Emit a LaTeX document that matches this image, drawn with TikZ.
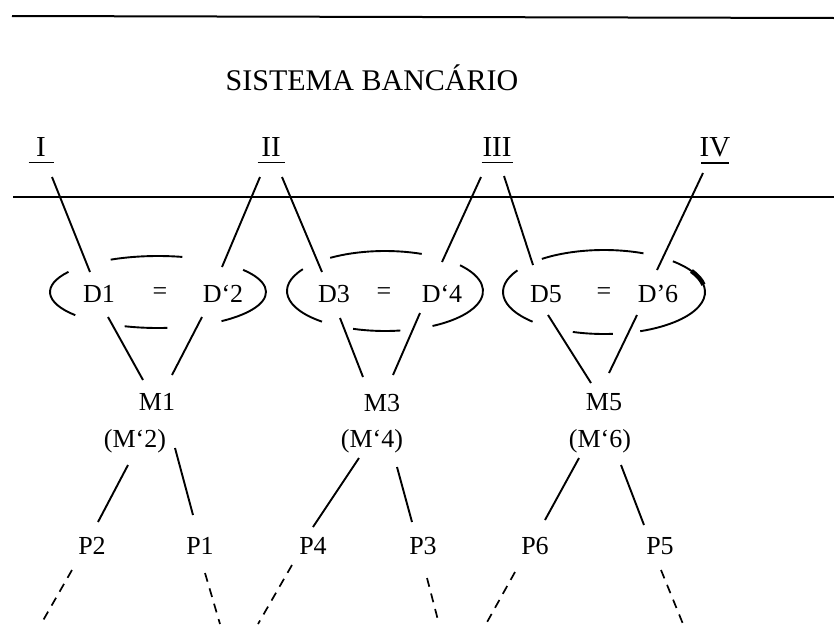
\documentclass[tikz,border=0pt]{standalone}
\usepackage{fontspec}
\setmainfont{Liberation Serif}
\usetikzlibrary{calc}
\begin{document}
\begin{tikzpicture}[x=1pt,y=-1pt,
  lbl/.style={inner sep=0pt, font={\fontsize{26}{28}\selectfont}},
  roman/.style={inner sep=0pt, font={\fontsize{29}{31}\selectfont}},
  link/.style={line width=1.9pt},
  trail/.style={line width=1.7pt, dash pattern=on 9pt off 7pt},
  hrule/.style={line width=2pt},
  uline/.style={line width=1.4pt},
  ring/.style={line width=1.9pt}]
\useasboundingbox (0,0) rectangle (834,624);

% horizontal rules
\draw[hrule] (12,16) -- (834,18);
\draw[hrule] (13,197) -- (834,197);

% heading
\node[inner sep=0pt, font={\fontsize{30}{32}\selectfont}] (title) at (372,78) {SISTEMA BANCÁRIO};

% roman numerals with underlines
\node[roman] (n1) at (41,147) {I};
\node[roman] (n2) at (271,147) {II};
\node[roman] (n3) at (497,147) {III};
\node[roman] (n4) at (715,147) {IV};
\draw[uline] ($(n1.south)+(-12.5,6)$) -- ($(n1.south)+(12.5,6)$);
\draw[uline] ($(n2.south)+(-13.5,6)$) -- ($(n2.south)+(13.5,6)$);
\draw[uline] ($(n3.south)+(-15.5,6)$) -- ($(n3.south)+(15.5,6)$);
\draw[uline] ($(n4.south)+(-14,6)$) -- ($(n4.south)+(14,6)$);

% deposit row
\node[lbl] (D1) at (99,294) {D1};
\node[lbl] (eq1) at (160,294) {=};
\node[lbl] (D2) at (223,294) {D‘2};
\node[lbl] (D3) at (334,294) {D3};
\node[lbl] (eq2) at (384,294) {=};
\node[lbl] (D4) at (442,294) {D‘4};
\node[lbl] (D5) at (546,294) {D5};
\node[lbl] (eq3) at (604,294) {=};
\node[lbl] (D6) at (658,294) {D’6};

% money row
\node[lbl] (M1) at (157,402) {M1};
\node[lbl] (Mp2) at (135,441) {(M‘2)};
\node[lbl] (M3) at (382,403) {M3};
\node[lbl] (Mp4) at (372,441) {(M‘4)};
\node[lbl] (M5) at (604,402) {M5};
\node[lbl] (Mp6) at (600,441) {(M‘6)};

% product row
\node[lbl] (P2) at (92,546) {P2};
\node[lbl] (P1) at (200,546) {P1};
\node[lbl] (P4) at (313,546) {P4};
\node[lbl] (P3) at (423,546) {P3};
\node[lbl] (P6) at (535,546) {P6};
\node[lbl] (P5) at (660,546) {P5};

% broken rings round each deposit pair
\draw[ring] (158,292) ++(140:108 and 36) arc[start angle=140,end angle=214,x radius=108,y radius=36];
\draw[ring] (158,292) ++(244:108 and 36) arc[start angle=244,end angle=283,x radius=108,y radius=36];
\draw[ring] (158,292) ++(85:108 and 36) arc[start angle=85,end angle=108,x radius=108,y radius=36];
\draw[ring] (158,292) ++(-38:108 and 36) arc[start angle=-38,end angle=54,x radius=108,y radius=36];

\draw[ring] (385,291) ++(130:98 and 40) arc[start angle=130,end angle=213,x radius=98,y radius=40];
\draw[ring] (385,291) ++(236:98 and 40) arc[start angle=236,end angle=292,x radius=98,y radius=40];
\draw[ring] (385,291) ++(81:98 and 40) arc[start angle=81,end angle=109,x radius=98,y radius=40];
\draw[ring] (385,291) ++(-40:98 and 40) arc[start angle=-40,end angle=61,x radius=98,y radius=40];

\draw[ring] (604,292) ++(135:101 and 42) arc[start angle=135,end angle=211,x radius=101,y radius=42];
\draw[ring] (604,292) ++(232:101 and 42) arc[start angle=232,end angle=293,x radius=101,y radius=42];
\draw[ring] (604,292) ++(85:101 and 42) arc[start angle=85,end angle=108,x radius=101,y radius=42];
\draw[ring] (604,292) ++(-47:101 and 42) arc[start angle=-47,end angle=69,x radius=101,y radius=42];
\draw[line width=4.5pt] (604,292) ++(-30:101 and 42) arc[start angle=-30,end angle=-10,x radius=101,y radius=42];

% numerals to deposits
\draw[link] ($(n1)+(11,30)$) -- ($(D1)+(-9,-22)$);
\draw[link] ($(n2)+(-11,30)$) -- ($(D2)+(-1,-27)$);
\draw[link] ($(n2)+(11,30)$) -- ($(D3)+(-12,-22)$);
\draw[link] ($(n3)+(-16,30)$) -- ($(D4)+(0,-32)$);
\draw[link] ($(n3)+(7,29)$) -- ($(D5)+(-13,-29)$);
\draw[link] ($(n4)+(-12,26)$) -- ($(D6)+(-1,-24)$);

% deposits to money
\draw[link] ($(D1)+(9,23)$) -- ($(M1)+(-14,-22)$);
\draw[link] ($(D2)+(-21,23)$) -- ($(M1)+(15,-27)$);
\draw[link] ($(D3)+(6,24)$) -- ($(M3)+(-19,-26)$);
\draw[link] ($(D4)+(-22,19)$) -- ($(M3)+(11,-28)$);
\draw[link] ($(D5)+(2,21)$) -- ($(M5)+(-13,-19)$);
\draw[link] ($(D6)+(-21,21)$) -- ($(M5)+(5,-29)$);

% money to products
\draw[link] ($(Mp2)+(-7,24)$) -- ($(P2)+(6,-24)$);
\draw[link] ($(Mp2)+(40,7)$) -- ($(P1)+(-7,-31)$);
\draw[link] ($(Mp4)+(-13,17)$) -- ($(P4)+(0,-19)$);
\draw[link] ($(Mp4)+(25,26)$) -- ($(P3)+(-11,-24)$);
\draw[link] ($(Mp6)+(-21,17)$) -- ($(P6)+(10,-26)$);
\draw[link] ($(Mp6)+(21,24)$) -- ($(P5)+(-16,-21)$);

% dashed continuations running off the lower edge
\coordinate (e2) at (41,624);
\coordinate (e1) at (220,624);
\coordinate (e4) at (258,624);
\coordinate (e3) at (439,624);
\coordinate (e6) at (486,624);
\coordinate (e5) at (683,624);
\draw[trail] ($(P2)+(-20,24)$) -- (e2);
\draw[trail] ($(P1)+(5,27)$) -- (e1);
\draw[trail] ($(P4)+(-21,19)$) -- (e4);
\draw[trail] ($(P3)+(4,32)$) -- (e3);
\draw[trail] ($(P6)+(-20,26)$) -- (e6);
\draw[trail] ($(P5)+(1,24)$) -- (e5);
\end{tikzpicture}
\end{document}
